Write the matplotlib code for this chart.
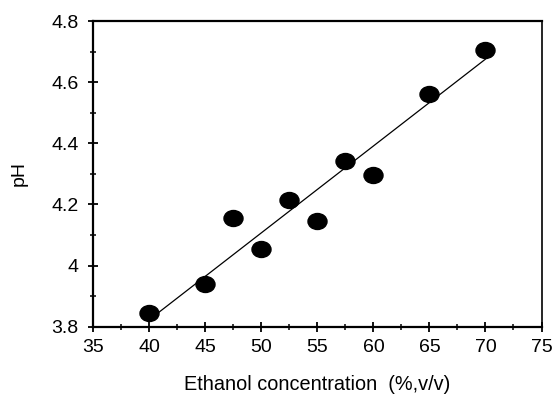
import numpy as np
import matplotlib
matplotlib.use("Agg")
import matplotlib.pyplot as plt
from matplotlib.path import Path
from matplotlib.ticker import MultipleLocator

plt.rcParams['font.family'] = ['Liberation Sans', 'DejaVu Sans']

# data
ethanol = [40, 45, 47.5, 50, 52.5, 55, 57.5, 60, 65, 70]
ph = [3.846, 3.939, 4.155, 4.053, 4.214, 4.147, 4.343, 4.295, 4.561, 4.705]

# end points of the drawn trend line
fit_x = [40, 70.3]
fit_y = [3.823, 4.684]

# slightly flattened filled dot
circ = Path.unit_circle()
oval = Path(circ.vertices * np.array([1.0, 0.84]), circ.codes)

fig = plt.figure(figsize=(5.52, 3.97), dpi=100)
ax = fig.add_axes([0.169, 0.177, 0.812, 0.770])

ax.plot(fit_x, fit_y, color='black', lw=0.9)
ax.plot(ethanol, ph, linestyle='none', marker=oval, markersize=13.7,
        color='black')

ax.set_xlim(35, 75)
ax.set_ylim(3.8, 4.8)
ax.xaxis.set_major_locator(MultipleLocator(5))
ax.xaxis.set_minor_locator(MultipleLocator(2.5))
ax.yaxis.set_minor_locator(MultipleLocator(0.1))
ax.set_yticks([3.8, 4.0, 4.2, 4.4, 4.6, 4.8])
ax.set_yticklabels(['3.8', '4', '4.2', '4.4', '4.6', '4.8'])

ax.tick_params(which='major', direction='inout', length=7, width=1.3,
               labelsize=14, pad=5)
ax.tick_params(axis='y', which='major', pad=7)
ax.tick_params(which='minor', direction='inout', length=4.5, width=1.1)

for side in ['left', 'bottom', 'top']:
    ax.spines[side].set_linewidth(1.6)
ax.spines['right'].set_linewidth(1.2)

ax.set_xlabel('Ethanol concentration  (%,v/v)', fontsize=14.3, labelpad=14)
ax.set_ylabel('pH', fontsize=14, labelpad=17)

fig.savefig('out.png', dpi=100)
